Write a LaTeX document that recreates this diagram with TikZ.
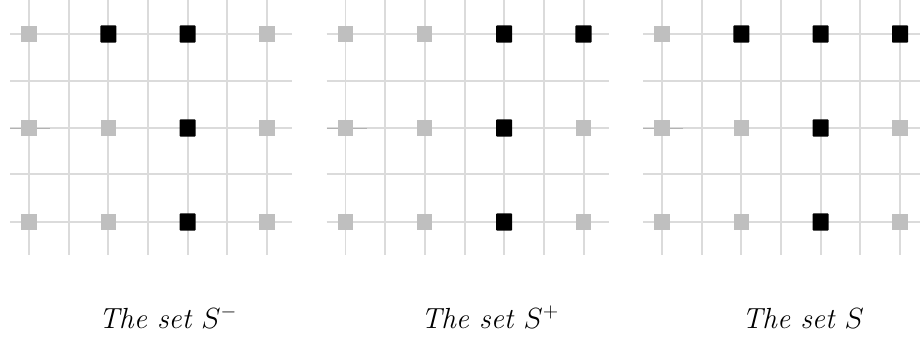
\documentclass[tikz,border=0pt]{standalone}
\usepackage{amsmath,amssymb}
\usepackage{tikz}

\begin{document}
\begin{tikzpicture}[x=0.025cm, y=-0.025cm,
	gridline/.style={draw=black!14, line width=1.4pt},
	tickline/.style={draw=black!30, line width=0.6pt},
	gsq/.style={draw=none, fill=black!25, minimum width=0.38cm, minimum height=0.41cm, inner sep=0pt},
	bsq/.style={gsq, fill=black, minimum width=0.4cm, minimum height=0.43cm, rounded corners=0.6pt},
	lbl/.style={font=\itshape\fontsize{20.7}{25}\selectfont, inner sep=0pt}]
	\useasboundingbox (0,0) rectangle (920,341);
	\foreach \p/\ox/\marks in {1/29/{gsq,bsq,bsq,gsq,gsq,gsq,bsq,gsq,gsq,gsq,bsq,gsq},
		2/345.5/{gsq,gsq,bsq,bsq,gsq,gsq,bsq,gsq,gsq,gsq,bsq,gsq},
		3/662/{gsq,bsq,bsq,bsq,gsq,gsq,bsq,gsq,gsq,gsq,bsq,gsq}} {
		\foreach \k in {0,...,6} {\draw[gridline] (\ox+39.67*\k,0) -- (\ox+39.67*\k,255);}
		\foreach \y in {34,81,128,174,222} {\draw[gridline] (\ox-19,\y) -- (\ox+263,\y);}
		\draw[tickline] (\ox-19,128) -- (\ox+21,128);
		\foreach \s [count=\k from 0] in \marks {
			\pgfmathtruncatemacro\col{mod(\k,4)}
			\pgfmathtruncatemacro\row{div(\k,4)}
			\node[\s] (p\p-\row\col) at (\ox+79.33*\col,34+94*\row) {};
		}
	}
	\node[lbl, anchor=base] (t1) at (168,328) {The set $S^-$};
	\node[lbl, anchor=base] (t2) at (490,328) {The set $S^+$};
	\node[lbl, anchor=base] (t3) at (803,328) {The set $S$};
\end{tikzpicture}
\end{document}
